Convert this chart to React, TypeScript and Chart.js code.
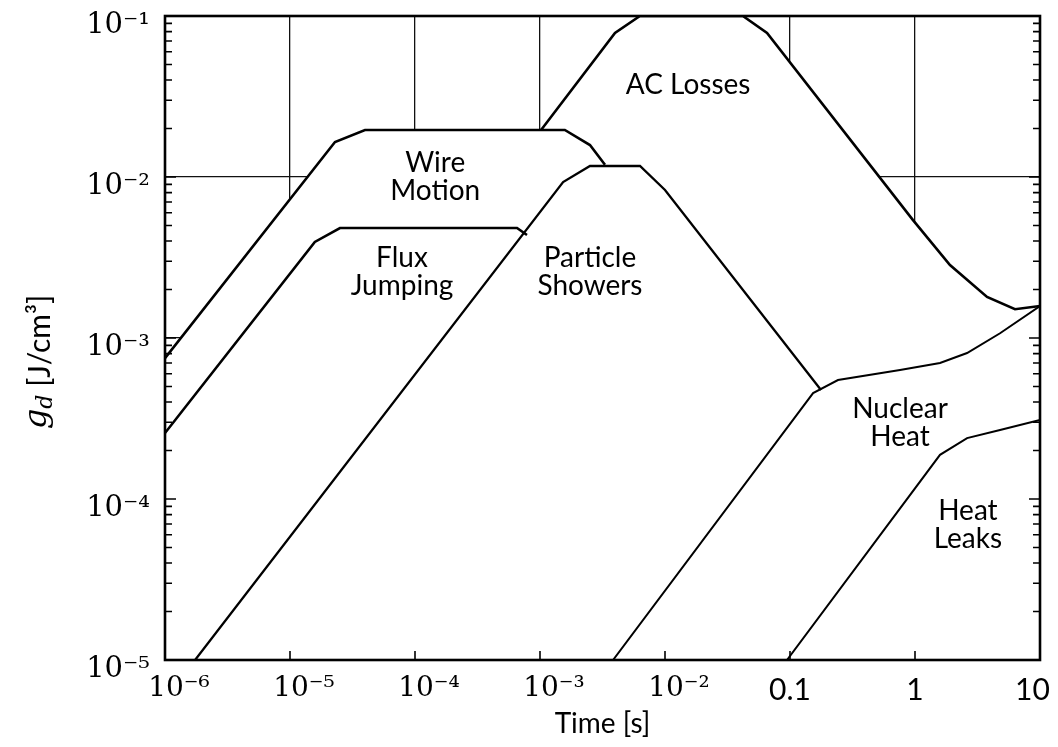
import React, { useEffect, useRef } from "react";
import { Chart, registerables } from "chart.js";

Chart.register(...registerables);

// ---- axis ticks ----
const X_TICKS = [1e-6, 1e-5, 1e-4, 1e-3, 1e-2, 1e-1, 1, 10];
const X_TICK_LABELS = ["\u200310⁻⁶", "\u200310⁻⁵", "\u200310⁻⁴", "\u200310⁻³", "\u200310⁻²", "0.1", "1", "10\u2002"];
const Y_TICKS = [1e-5, 1e-4, 1e-3, 1e-2, 1e-1];
const Y_TICK_LABELS = ["10⁻⁵", "10⁻⁴", "10⁻³", "10⁻²", "10⁻¹"];

// ---- boundary curves (time [s], g_d [J/cm^3]) ----
const WIRE_MOTION_T = [1e-6, 2.29e-5, 3.98e-5, 1.58e-3, 2.51e-3, 3.31e-3];
const WIRE_MOTION_G = [7.5e-4, 0.0165, 0.0196, 0.0196, 0.0158, 0.0119];

const FLUX_JUMPING_T = [1e-6, 1.58e-5, 2.51e-5, 6.55e-4, 7.87e-4];
const FLUX_JUMPING_G = [2.57e-4, 3.95e-3, 4.82e-3, 4.82e-3, 4.36e-3];

const PARTICLE_SHOWERS_T = [1.74e-6, 1.53e-3, 2.51e-3, 6.31e-3, 1.0e-2, 0.177];
const PARTICLE_SHOWERS_G = [1e-5, 9.3e-3, 0.0117, 0.0117, 8.3e-3, 4.75e-4];

const AC_LOSSES_T = [1.02e-3, 3.98e-3, 6.3e-3, 0.042, 0.0655, 0.964, 1.905, 3.77, 6.31, 10];
const AC_LOSSES_G = [0.0196, 0.0784, 0.1, 0.1, 0.0784, 5.4e-3, 2.84e-3, 1.8e-3, 1.51e-3, 1.58e-3];

const NUCLEAR_HEAT_T = [3.84e-3, 0.153, 0.242, 0.759, 1.585, 2.61, 4.79, 10];
const NUCLEAR_HEAT_G = [1e-5, 4.55e-4, 5.48e-4, 6.33e-4, 7.0e-4, 8.07e-4, 1.07e-3, 1.58e-3];

const HEAT_LEAKS_T = [0.0946, 1.585, 2.61, 4.79, 10];
const HEAT_LEAKS_G = [1e-5, 1.88e-4, 2.39e-4, 2.68e-4, 3.1e-4];

// ---- region labels ----
const REGION_LABELS = [["AC Losses"], ["Wire", "Motion"], ["Flux", "Jumping"], ["Particle", "Showers"], ["Nuclear", "Heat"], ["Heat", "Leaks"]];
const REGION_LABEL_T = [0.0153, 1.45e-4, 7.87e-5, 2.51e-3, 0.759, 2.65];
const REGION_LABEL_G = [0.0373, 0.01, 2.57e-3, 2.57e-3, 2.97e-4, 6.9e-5];

const X_TITLE = "Time [s]";

const toPoints = (t: number[], g: number[]) => t.map((v, i) => ({ x: v, y: g[i] }));

const SANS = "Lato, 'DejaVu Sans', sans-serif";
const SERIF = "'DejaVu Serif', 'Liberation Serif', serif";

const decorPlugin = {
  id: "decor",
  afterDatasetsDraw(chart: any) {
    const { ctx, chartArea, scales } = chart;
    const xs = scales.x;
    const ys = scales.y;
    const { left, right, top, bottom } = chartArea;
    ctx.save();
    ctx.strokeStyle = "#000";
    ctx.lineWidth = 1.6;
    ctx.beginPath();
    for (let d = -5; d <= -2; d++) {
      for (let m = 1; m <= 9; m++) {
        const v = m * Math.pow(10, d);
        const py = ys.getPixelForValue(v);
        const len = m === 1 ? 11 : 7;
        ctx.moveTo(left, py);
        ctx.lineTo(left + len, py);
        ctx.moveTo(right, py);
        ctx.lineTo(right - len, py);
      }
    }
    X_TICKS.forEach((v) => {
      const px = xs.getPixelForValue(v);
      ctx.moveTo(px, bottom);
      ctx.lineTo(px, bottom - 9);
    });
    ctx.stroke();
    ctx.lineWidth = 2.6;
    ctx.strokeRect(left, top, right - left, bottom - top);
    ctx.fillStyle = "#000";
    ctx.font = `28px ${SANS}`;
    ctx.textAlign = "center";
    ctx.textBaseline = "middle";
    REGION_LABELS.forEach((lines, i) => {
      const cx = xs.getPixelForValue(REGION_LABEL_T[i]);
      const cy = ys.getPixelForValue(REGION_LABEL_G[i]);
      const lh = 28;
      lines.forEach((s, k) => {
        ctx.fillText(s, cx, cy + (k - (lines.length - 1) / 2) * lh);
      });
    });
    ctx.restore();
  },
  afterDraw(chart: any) {
    const { ctx, chartArea } = chart;
    const cy = (chartArea.top + chartArea.bottom) / 2 + 24;
    const cx = 40;
    ctx.save();
    ctx.translate(cx, cy);
    ctx.rotate(-Math.PI / 2);
    ctx.fillStyle = "#000";
    ctx.textBaseline = "middle";
    ctx.textAlign = "left";
    const fG = `italic 32px ${SERIF}`;
    const fD = `italic 22px ${SERIF}`;
    const fR = `30px ${SANS}`;
    ctx.font = fG;
    const wG = ctx.measureText("g").width;
    ctx.font = fD;
    const wD = ctx.measureText("d").width;
    ctx.font = fR;
    const rest = " [J/cm³]";
    const wR = ctx.measureText(rest).width;
    const total = wG + wD + wR;
    let x = -total / 2;
    ctx.font = fG;
    ctx.fillText("g", x, -2);
    x += wG;
    ctx.font = fD;
    ctx.fillText("d", x, 6);
    x += wD;
    ctx.font = fR;
    ctx.fillText(rest, x, 0);
    ctx.restore();
  },
};

export default function App() {
  const canvasRef = useRef<HTMLCanvasElement | null>(null);

  useEffect(() => {
    const canvas = canvasRef.current;
    if (!canvas) return;
    const mk = (label: string, t: number[], g: number[], w: number) => ({
      label,
      data: toPoints(t, g),
      showLine: true,
      borderColor: "#000",
      borderWidth: w,
      backgroundColor: "#fff",
      fill: "start",
      pointRadius: 0,
      tension: 0,
    });
    const chart = new Chart(canvas, {
      type: "scatter",
      data: {
        datasets: [
          mk("Wire Motion", WIRE_MOTION_T, WIRE_MOTION_G, 2.6),
          mk("Flux Jumping", FLUX_JUMPING_T, FLUX_JUMPING_G, 2.6),
          mk("Particle Showers", PARTICLE_SHOWERS_T, PARTICLE_SHOWERS_G, 2.3),
          mk("AC Losses", AC_LOSSES_T, AC_LOSSES_G, 2.6),
          mk("Nuclear Heat", NUCLEAR_HEAT_T, NUCLEAR_HEAT_G, 2.0),
          mk("Heat Leaks", HEAT_LEAKS_T, HEAT_LEAKS_G, 2.0),
        ],
      },
      options: {
        animation: false,
        responsive: false,
        layout: { padding: { left: 0, right: 18, top: 16, bottom: 0 } },
        plugins: {
          legend: { display: false },
          tooltip: { enabled: false },
          filler: { drawTime: "beforeDatasetsDraw", propagate: false },
        },
        scales: {
          x: {
            type: "logarithmic",
            min: 1e-6,
            max: 10,
            afterBuildTicks: (scale: any) => {
              scale.ticks = X_TICKS.map((v) => ({ value: v }));
            },
            afterFit: (scale: any) => {
              scale.height = 87;
              scale.paddingLeft = 0;
              scale.paddingRight = 0;
            },
            grid: { color: "#111", lineWidth: 1.3, drawTicks: false },
            border: { display: false },
            ticks: {
              autoSkip: false,
              maxRotation: 0,
              padding: 12,
              color: "#000",
              callback: (_v: any, i: number) => X_TICK_LABELS[i],
              font: (c: any) =>
                c.index < 5 ? { family: SERIF, size: 28 } : { family: SANS, size: 30 },
            },
            title: {
              display: true,
              text: X_TITLE,
              color: "#000",
              font: { family: SANS, size: 28 },
              padding: { top: 0, bottom: 6 },
            },
          },
          y: {
            type: "logarithmic",
            min: 1e-5,
            max: 1e-1,
            afterBuildTicks: (scale: any) => {
              scale.ticks = Y_TICKS.map((v) => ({ value: v }));
            },
            afterFit: (scale: any) => {
              scale.width = 165;
              scale.paddingTop = 0;
              scale.paddingBottom = 0;
            },
            grid: { color: "#111", lineWidth: 1.3, drawTicks: false },
            border: { display: false },
            ticks: {
              autoSkip: false,
              padding: 15,
              labelOffset: 9,
              color: "#000",
              callback: (_v: any, i: number) => Y_TICK_LABELS[i],
              font: { family: SERIF, size: 29 },
            },
          },
        },
      },
      plugins: [decorPlugin],
    } as any);
    return () => chart.destroy();
  }, []);

  return (
    <div style={{ position: "fixed", left: 0, top: 0, width: 1058, height: 747, background: "#fff" }}>
      <canvas ref={canvasRef} width={1058} height={747} />
    </div>
  );
}
